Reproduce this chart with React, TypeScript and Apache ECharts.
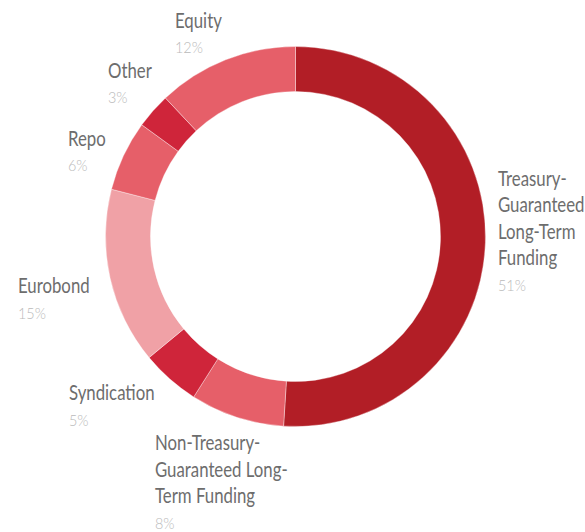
import React, { useEffect, useRef } from "react";
import * as echarts from "echarts";

const categories = [
  "Treasury-Guaranteed Long-Term Funding",
  "Non-Treasury-Guaranteed Long-Term Funding",
  "Syndication",
  "Eurobond",
  "Repo",
  "Other",
  "Equity",
];
const labelTexts = [
  "Treasury-\nGuaranteed\nLong-Term\nFunding",
  "Non-Treasury-\nGuaranteed Long-\nTerm Funding",
  "Syndication",
  "Eurobond",
  "Repo",
  "Other",
  "Equity",
];
const shares = [51, 8, 5, 15, 6, 3, 12];

const sliceColors = ["#B21E26", "#E65F69", "#CF253A", "#F0A1A6", "#E65F69", "#CF253A", "#E65F69"];
const labelPos: [number, number][] = [
  [498, 164.25],
  [155, 428.75],
  [69, 378.75],
  [18, 271.75],
  [68, 124.25],
  [108, 56.25],
  [175, 6.25],
];

const FONT = "Lato, 'Open Sans', Roboto, sans-serif";
const NAME_LH = 26.5;

export default function App() {
  const ref = useRef<HTMLDivElement>(null);
  useEffect(() => {
    if (!ref.current) return;
    const chart = echarts.init(ref.current, undefined, { renderer: "svg" });
    const labels = labelTexts.flatMap((t, i) => {
      const [lx, ly] = labelPos[i];
      const n = t.split("\n").length;
      return [
        {
          type: "text",
          x: lx,
          y: ly,
          scaleX: 0.8,
          silent: true,
          style: {
            text: t,
            fontFamily: FONT,
            fontSize: 21,
            lineHeight: NAME_LH,
            fill: "#6d6d6d",
            align: "left",
            verticalAlign: "top",
          },
        },
        {
          type: "text",
          x: lx,
          y: ly + (n - 0.5) * NAME_LH + 27.5,
          scaleX: 0.9,
          silent: true,
          style: {
            text: shares[i] + "%",
            fontFamily: FONT,
            fontSize: 16,
            fontWeight: 300,
            fill: "#bababa",
            align: "left",
            verticalAlign: "middle",
          },
        },
      ];
    });
    chart.setOption({
      animation: false,
      backgroundColor: "#ffffff",
      graphic: labels,
      series: [
        {
          type: "pie",
          center: [295.5, 236.5],
          radius: [145, 190],
          startAngle: 90,
          clockwise: true,
          itemStyle: { borderColor: "rgba(255,255,255,0.6)", borderWidth: 0.6 },
          label: { show: false },
          labelLine: { show: false },
          emphasis: { disabled: true },
          data: categories.map((c, i) => ({
            name: c,
            value: shares[i],
            itemStyle: { color: sliceColors[i] },
          })),
        },
      ],
    });
    return () => chart.dispose();
  }, []);
  return (
    <div
      ref={ref}
      style={{ position: "fixed", left: 0, top: 0, width: 585, height: 532 }}
    />
  );
}
